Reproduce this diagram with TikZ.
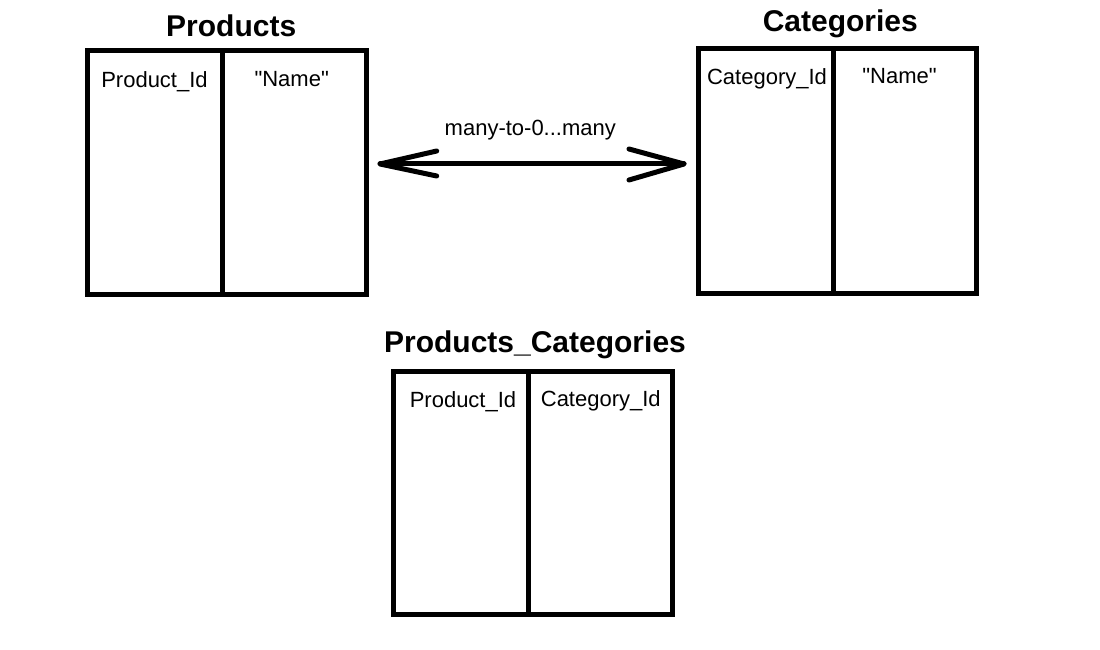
\documentclass[tikz,border=0pt]{standalone}
\usepackage{fontspec}
\setmainfont{Liberation Sans}
\newfontfamily\plainsans{Liberation Sans}
\begin{document}
\begin{tikzpicture}[x=1bp,y=-1bp,
  tbl/.style={draw=black,line width=5bp,minimum width=#1,inner sep=0pt,outer sep=0pt},
  title/.style={anchor=base,inner sep=0pt,font=\fontsize{30bp}{35bp}\selectfont\bfseries},
  lbl/.style={anchor=base,inner sep=0pt,font=\fontsize{22bp}{26bp}\selectfont},
  qlbl/.style={lbl,font=\plainsans\fontsize{22bp}{26bp}\selectfont},
  thick5/.style={line width=5bp},
  arrowline/.style={line width=5bp,line cap=round,line join=round}]
\useasboundingbox[fill=white] (0,0) rectangle (1100,650);

% Products
\node[tbl=279bp,minimum height=243.5bp] (prod) at (227,172.25) {};
\coordinate (prodDivT) at (222.5,50.5);
\coordinate (prodDivB) at (222.5,294);
\draw[thick5] (prodDivT) -- (prodDivB);
\node[title] (prodT) at (231.2,36.7) {Products};
\node[lbl] (prodA) at (154.5,87.3) {Product\_Id};
\node[qlbl] (prodB) at (291.7,87) {"Name"};

% Categories
\node[tbl=278bp,minimum height=244bp] (cat) at (837.5,171) {};
\coordinate (catDivT) at (833.5,49);
\coordinate (catDivB) at (833.5,293);
\draw[thick5] (catDivT) -- (catDivB);
\node[title] (catT) at (840.3,32) {Categories};
\node[lbl] (catA) at (767,84.3) {Category\_Id};
\node[qlbl] (catB) at (899.5,83.3) {"Name"};

% Products_Categories
\node[tbl=279bp,minimum height=243bp] (pc) at (533,492.5) {};
\coordinate (pcDivT) at (528.5,371);
\coordinate (pcDivB) at (528.5,614);
\draw[thick5] (pcDivT) -- (pcDivB);
\node[title] (pcT) at (535,352.7) {Products\_Categories};
\node[lbl] (pcA) at (463,407.3) {Product\_Id};
\node[lbl] (pcB) at (600.8,406) {Category\_Id};

% Relationship arrow
\coordinate (L) at (380,164);
\coordinate (R) at (684,164);
\coordinate (Lu) at (436.7,151);
\coordinate (Ld) at (436.7,176);
\coordinate (Ru) at (629,149);
\coordinate (Rd) at (629,180);
\draw[arrowline] (L) -- (R);
\draw[arrowline] (Lu) -- (L) -- (Ld);
\draw[arrowline] (Ru) -- (R) -- (Rd);
\node[lbl] (rel) at (530.3,136) {many-to-0...many};
\end{tikzpicture}
\end{document}
